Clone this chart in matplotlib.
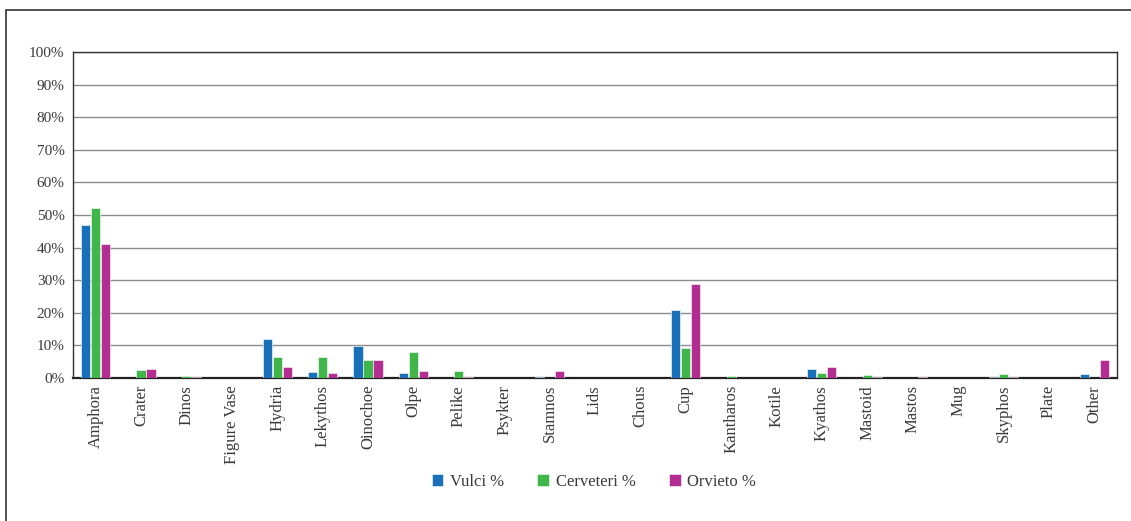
import matplotlib.pyplot as plt
import numpy as np
from matplotlib.patches import Rectangle

plt.rcParams['font.family'] = ['Liberation Serif', 'DejaVu Serif']

# --------------------------------------------------
# Data (share of each vessel shape, %)
# --------------------------------------------------
shapes = ["Amphora", "Crater", "Dinos", "Figure Vase", "Hydria", "Lekythos",
          "Oinochoe", "Olpe", "Pelike", "Psykter", "Stamnos", "Lids", "Chous",
          "Cup", "Kantharos", "Kotile", "Kyathos", "Mastoid", "Mastos", "Mug",
          "Skyphos", "Plate", "Other"]
vulci = [47.0, 0.0, 0.0, 0.0, 12.0, 1.8, 9.8, 1.5, 0.0, 0.0, 0.4, 0.0, 0.0,
         20.9, 0.1, 0.0, 2.7, 0.0, 0.0, 0.0, 0.4, 0.0, 1.3]
cerveteri = [52.2, 2.3, 0.6, 0.1, 6.3, 6.4, 5.6, 8.1, 2.0, 0.1, 0.0, 0.0, 0.0,
             9.3, 0.7, 0.0, 1.5, 1.0, 0.0, 0.0, 1.1, 0.0, 0.0]
orvieto = [41.2, 2.7, 0.4, 0.0, 3.3, 1.6, 5.6, 2.2, 0.4, 0.0, 2.2, 0.0, 0.0,
           28.7, 0.0, 0.0, 3.4, 0.3, 0.4, 0.0, 0.4, 0.0, 5.5]
series = ["Vulci %", "Cerveteri %", "Orvieto %"]
colors = ["#1a70b8", "#40b64a", "#b32d93"]

# --------------------------------------------------
# Plot
# --------------------------------------------------
fig = plt.figure(figsize=(11.31, 5.21), dpi=100)
ax = fig.add_axes([0.0645, 0.2745, 0.9231, 0.6257])

x = np.arange(len(shapes))
step = 0.22
for i, (vals, lab, col) in enumerate(zip([vulci, cerveteri, orvieto], series, colors)):
    ax.bar(x + (i - 1) * step, vals, width=0.2, color=col, edgecolor="white",
           linewidth=0.4, label=lab, zorder=3)

ax.set_xlim(-0.5, len(shapes) - 0.5)
ax.set_ylim(0, 100)
ax.set_yticks(np.arange(0, 101, 10))
ax.set_yticklabels([f"{v}%" for v in range(0, 101, 10)], fontsize=11, color="#3a3a3a")
ax.set_xticks(x)
ax.set_xticklabels(shapes, rotation=90, fontsize=12, color="#3a3a3a")
ax.tick_params(axis="y", length=0, pad=6)
ax.tick_params(axis="x", length=0, pad=5)
ax.grid(axis="y", color="#8c8c8c", linewidth=1.0, zorder=0)
for side in ["top", "right", "left"]:
    ax.spines[side].set_color("#333333")
    ax.spines[side].set_linewidth(1.0)
ax.spines["bottom"].set_color("#222222")
ax.spines["bottom"].set_linewidth(1.6)
ax.spines["bottom"].set_zorder(2)

fig.legend(loc="center", bbox_to_anchor=(0.525, 0.075), ncol=3, frameon=False,
           fontsize=12, handlelength=0.7, handleheight=0.7, columnspacing=2.0,
           handletextpad=0.4, labelcolor="#3a3a3a")

# outer frame (cropped on right and bottom)
fig.patches.append(Rectangle((6 / 1131, -0.1), 1.2, 1.1 - 10 / 521,
                             transform=fig.transFigure, fill=False,
                             edgecolor="#333333", linewidth=1.2))

fig.savefig("out.png", dpi=100)
